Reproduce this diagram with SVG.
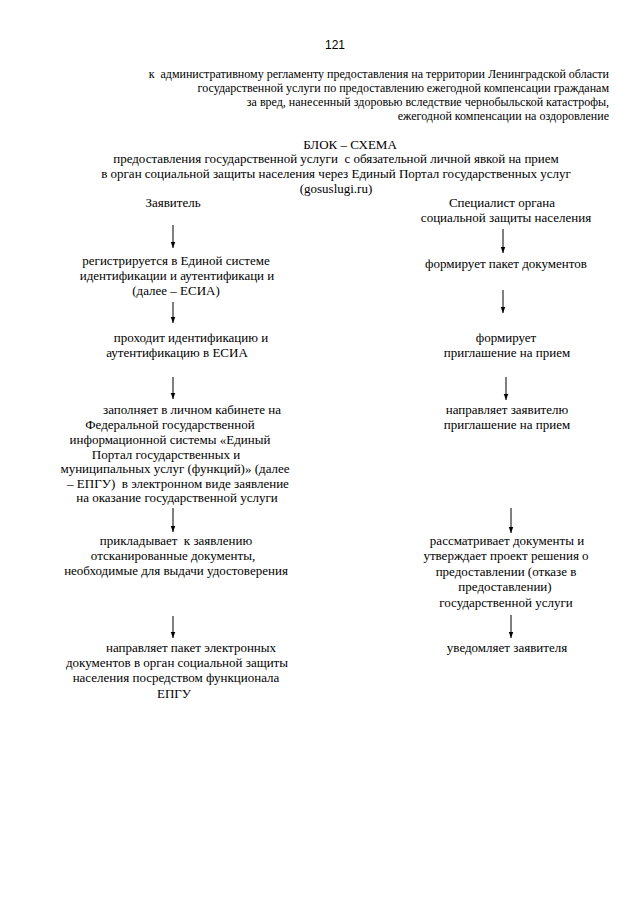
<svg xmlns="http://www.w3.org/2000/svg" width="640" height="905" viewBox="0 0 640 905" xml:space="preserve">
<style>
text{font-family:"Liberation Serif","Times New Roman",serif;fill:#000;font-size:13px;white-space:pre}
.h{font-size:12px;text-anchor:end}
.c{text-anchor:middle}
.conn line{stroke:#000;stroke-width:1}
</style>
<defs>
<marker id="a2" markerUnits="userSpaceOnUse" markerWidth="6" markerHeight="8" refX="8" refY="3" orient="auto" viewBox="0 0 8 6">
<path d="M0,0 L8,3 L0,6 Z" fill="#000"/>
</marker>
</defs>
<rect width="640" height="905" fill="#fff"/>
<g id="header">
<text x="335" y="49" class="c" style="font-family:'Liberation Sans',Arial,sans-serif;font-size:12px">121</text>
<text x="609" y="78" class="h" xml:space="preserve">к  административному регламенту предоставления на территории Ленинградской области</text>
<text x="609" y="92" class="h">государственной услуги по предоставлению ежегодной компенсации гражданам</text>
<text x="609" y="106" class="h">за вред, нанесенный здоровью вследствие чернобыльской катастрофы,</text>
<text x="609" y="120" class="h">ежегодной компенсации на оздоровление</text>
</g>
<g id="title">
<text x="350" y="149" class="c">БЛОК – СХЕМА</text>
<text x="336" y="163" class="c" xml:space="preserve">предоставления государственной услуги  с обязательной личной явкой на прием</text>
<text x="336" y="178" class="c">в орган социальной защиты населения через Единый Портал государственных услуг</text>
<text x="336" y="193" class="c">(gosuslugi.ru)</text>
</g>
<g id="col-applicant"><text x="173" y="207" class="c">Заявитель</text></g>
<g id="col-specialist">
<text x="502" y="207" class="c">Специалист органа</text>
<text x="506" y="222" class="c">социальной защиты населения</text>
</g>
<g id="l1">
<text x="176" y="265" class="c">регистрируется в Единой системе</text>
<text x="177" y="280" class="c">идентификации и аутентификаци и</text>
<text x="176" y="295" class="c">(далее – ЕСИА)</text>
</g>
<g id="l2">
<text x="191" y="342" class="c">проходит идентификацию и</text>
<text x="177" y="357" class="c">аутентификацию в ЕСИА</text>
</g>
<g id="l3">
<text x="192" y="414" class="c">заполняет в личном кабинете на</text>
<text x="170" y="429" class="c">Федеральной государственной</text>
<text x="170" y="444" class="c">информационной системы «Единый</text>
<text x="166" y="459" class="c">Портал государственных и</text>
<text x="175" y="473" class="c">муниципальных услуг (функций)» (далее</text>
<text x="178" y="488" class="c" xml:space="preserve">– ЕПГУ)  в электронном виде заявление</text>
<text x="177" y="502" class="c">на оказание государственной услуги</text>
</g>
<g id="l4">
<text x="176" y="545" class="c" xml:space="preserve">прикладывает  к заявлению</text>
<text x="173" y="560" class="c">отсканированные документы,</text>
<text x="176" y="575" class="c">необходимые для выдачи удостоверения</text>
</g>
<g id="l5">
<text x="191" y="652" class="c">направляет пакет электронных</text>
<text x="177" y="667" class="c">документов в орган социальной защиты</text>
<text x="176" y="682" class="c">населения посредством функционала</text>
<text x="174" y="698" class="c">ЕПГУ</text>
</g>
<g id="r1"><text x="506" y="268" class="c">формирует пакет документов</text></g>
<g id="r2">
<text x="506" y="342" class="c">формирует</text>
<text x="507" y="357" class="c">приглашение на прием</text>
</g>
<g id="r3">
<text x="507" y="414" class="c">направляет заявителю</text>
<text x="507" y="429" class="c">приглашение на прием</text>
</g>
<g id="r4">
<text x="507" y="545" class="c">рассматривает документы и</text>
<text x="506" y="560" class="c">утверждает проект решения о</text>
<text x="506" y="576" class="c">предоставлении (отказе в</text>
<text x="505" y="591" class="c">предоставлении)</text>
<text x="506" y="607" class="c">государственной услуги</text>
</g>
<g id="r5"><text x="507" y="652" class="c">уведомляет заявителя</text></g>
<g id="connectors" class="conn">
<line x1="173" y1="225" x2="173" y2="248" marker-end="url(#a2)"/>
<line x1="173" y1="302" x2="173" y2="323" marker-end="url(#a2)"/>
<line x1="173" y1="377" x2="173" y2="399" marker-end="url(#a2)"/>
<line x1="173" y1="508" x2="173" y2="532" marker-end="url(#a2)"/>
<line x1="173" y1="616" x2="173" y2="638" marker-end="url(#a2)"/>
<line x1="503" y1="229" x2="503" y2="253" marker-end="url(#a2)"/>
<line x1="503" y1="290" x2="503" y2="313" marker-end="url(#a2)"/>
<line x1="506" y1="377" x2="506" y2="400" marker-end="url(#a2)"/>
<line x1="511" y1="508" x2="511" y2="533" marker-end="url(#a2)"/>
<line x1="511" y1="615" x2="511" y2="638" marker-end="url(#a2)"/>
</g>
</svg>
